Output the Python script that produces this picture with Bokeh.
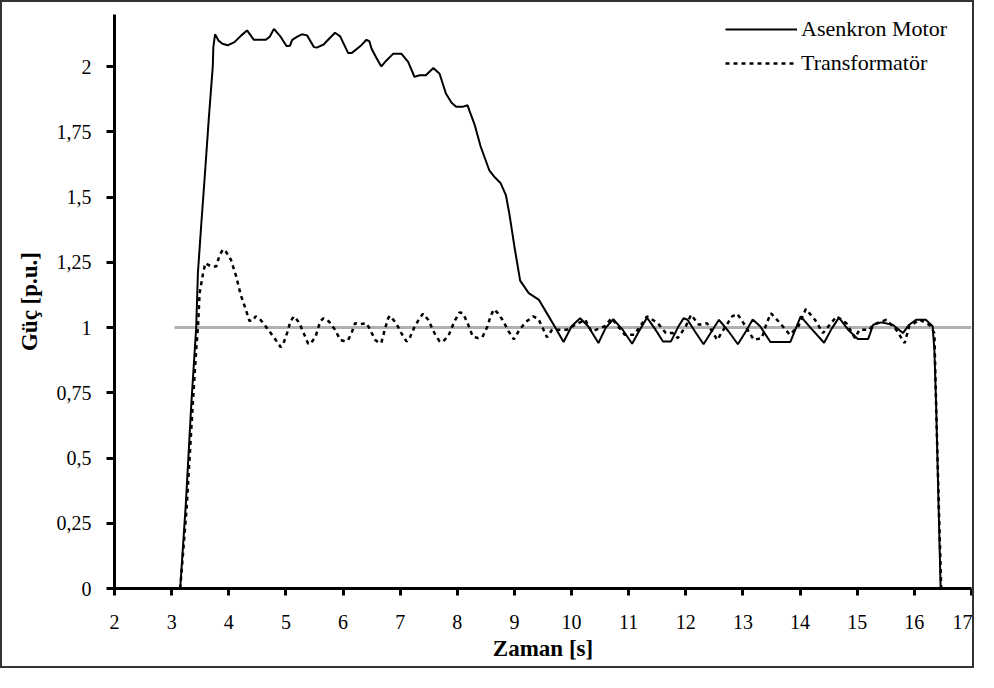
from bokeh.plotting import figure
from bokeh.models import Legend, LegendItem, FixedTicker, Range1d
from bokeh.embed import file_html
from bokeh.resources import INLINE

# ---------------- data ----------------
motor_time = [3.15, 3.25, 3.345, 3.43, 3.46, 3.52, 3.58, 3.65, 3.72, 3.73, 3.76, 3.82, 3.89, 3.98,
              4.10, 4.22, 4.32, 4.44, 4.55, 4.65, 4.72, 4.79, 4.91, 5.01, 5.07, 5.11, 5.20, 5.28,
              5.37, 5.49, 5.54, 5.66, 5.76, 5.86, 5.95, 6.09, 6.15, 6.30, 6.41, 6.46, 6.50, 6.58,
              6.67, 6.76, 6.88, 7.02, 7.14, 7.25, 7.34, 7.45, 7.58, 7.69, 7.80, 7.90, 7.98, 8.09,
              8.18, 8.22, 8.30, 8.41, 8.56, 8.66, 8.76, 8.85, 8.91, 9.00, 9.10, 9.25, 9.43, 9.60,
              9.72, 9.86, 10.00, 10.15, 10.29, 10.47, 10.60, 10.73, 10.90, 11.06, 11.19, 11.32,
              11.46, 11.60, 11.74, 11.86, 11.96, 12.03, 12.16, 12.31, 12.45, 12.58, 12.75, 12.91,
              13.05, 13.17, 13.30, 13.48, 13.83, 14.01, 14.20, 14.42, 14.55, 14.68, 14.84, 15.01,
              15.19, 15.28, 15.42, 15.62, 15.80, 15.91, 16.03, 16.20, 16.32, 16.35, 16.38, 16.42,
              16.46]
motor_power = [0.0, 0.33, 0.71, 1.00, 1.21, 1.40, 1.58, 1.80, 2.00, 2.075, 2.124, 2.10, 2.088, 2.082,
               2.094, 2.12, 2.139, 2.103, 2.103, 2.103, 2.116, 2.145, 2.114, 2.079, 2.08, 2.103, 2.115, 2.124,
               2.120, 2.075, 2.073, 2.085, 2.108, 2.130, 2.116, 2.052, 2.052, 2.078, 2.103, 2.098, 2.069, 2.035,
               2.001, 2.024, 2.050, 2.050, 2.018, 1.961, 1.967, 1.967, 1.995, 1.973, 1.897, 1.862, 1.846, 1.846,
               1.852, 1.827, 1.78, 1.693, 1.603, 1.575, 1.553, 1.508, 1.438, 1.31, 1.18, 1.132, 1.106, 1.043,
               0.998, 0.945, 1.005, 1.036, 1.005, 0.941, 1.00, 1.032, 0.99, 0.938, 0.99, 1.038,
               0.995, 0.947, 0.947, 1.00, 1.036, 1.030, 0.985, 0.936, 0.985, 1.030, 0.985, 0.936,
               0.985, 1.031, 1.005, 0.945, 0.945, 1.043, 0.995, 0.942, 0.995, 1.038, 0.992, 0.956,
               0.956, 1.011, 1.020, 1.011, 0.979, 1.011, 1.030, 1.030, 1.005, 0.915, 0.711, 0.35,
               0.0]

trafo_time = [3.15, 3.26, 3.375, 3.43, 3.46, 3.49, 3.55, 3.59, 3.69, 3.78, 3.84, 3.90, 3.95, 4.04,
              4.13, 4.21, 4.30, 4.36, 4.42, 4.47, 4.53, 4.59, 4.70, 4.82, 4.91, 4.96, 5.02, 5.08,
              5.14, 5.23, 5.31, 5.39, 5.43, 5.52, 5.60, 5.66, 5.75, 5.86, 5.95, 6.04, 6.09, 6.15,
              6.21, 6.30, 6.41, 6.47, 6.56, 6.62, 6.67, 6.73, 6.79, 6.82, 6.93, 7.02, 7.11, 7.16,
              7.25, 7.34, 7.40, 7.49, 7.60, 7.69, 7.75, 7.84, 7.95, 8.04, 8.10, 8.18, 8.27, 8.36,
              8.44, 8.53, 8.58, 8.64, 8.70, 8.79, 8.90, 8.99, 9.07, 9.19, 9.33, 9.42, 9.57, 9.66,
              9.92, 10.06, 10.24, 10.35, 10.58, 10.70, 10.93, 11.10, 11.32, 11.51, 11.65, 11.77,
              11.86, 12.00, 12.09, 12.23, 12.37, 12.55, 12.66, 12.81, 12.90, 13.01, 13.19, 13.33,
              13.42, 13.49, 13.65, 13.82, 13.97, 14.10, 14.26, 14.40, 14.64, 14.81, 14.96, 15.04,
              15.22, 15.27, 15.51, 15.68, 15.83, 15.91, 16.09, 16.26, 16.35, 16.38, 16.43, 16.47,
              16.52]
trafo_power = [0.0, 0.30, 0.724, 0.915, 1.0, 1.132, 1.208, 1.247, 1.234, 1.234, 1.278, 1.300, 1.291, 1.259,
               1.196, 1.125, 1.068, 1.026, 1.026, 1.043, 1.036, 1.021, 0.989, 0.953, 0.925, 0.941, 0.979, 1.024,
               1.043, 1.020, 0.979, 0.938, 0.938, 0.966, 1.024, 1.036, 1.024, 0.992, 0.953, 0.947, 0.953, 0.979,
               1.017, 1.013, 1.017, 0.994, 0.953, 0.943, 0.941, 0.992, 1.036, 1.045, 1.017, 0.979, 0.947, 0.956,
               1.002, 1.036, 1.053, 1.030, 0.979, 0.947, 0.947, 0.966, 1.024, 1.058, 1.055, 1.017, 0.966, 0.960,
               0.964, 1.005, 1.043, 1.070, 1.058, 1.030, 0.985, 0.955, 0.985, 1.02, 1.043, 1.033, 0.963, 0.992,
               0.992, 1.011, 1.03, 0.985, 1.005, 1.036, 0.973, 0.973, 1.043, 1.017, 0.979, 0.979,
               0.960, 1.005, 1.049, 1.011, 1.017, 0.953, 0.992, 1.043, 1.053, 1.017, 0.953, 0.960,
               1.02, 1.055, 1.017, 0.973, 1.005, 1.071, 1.03, 0.979, 1.043, 1.017, 0.960, 0.992,
               0.992, 1.011, 1.03, 0.992, 0.941, 1.005, 1.03, 1.011, 0.979, 0.711, 0.3, 0.0,
               0.0]

ref_time = [3.05, 17.0]
ref_power = [1.0, 1.0]

x_ticks = list(range(2, 18))
y_ticks = [0, 0.25, 0.5, 0.75, 1, 1.25, 1.5, 1.75, 2]
y_tick_labels = ["0", "0,25", "0,5", "0,75", "1", "1,25", "1,5", "1,75", "2"]

x_title = "Zaman [s]"
y_title = "Güç [p.u.]"
series_names = ["Asenkron Motor", "Transformatör"]

FONT = "Liberation Serif"

# ---------------- figure ----------------
p = figure(width=974, height=668, x_range=Range1d(2, 17), y_range=Range1d(0, 2.2),
           output_backend="svg", toolbar_location=None,
           min_border_left=112, min_border_right=5, min_border_top=12, min_border_bottom=82)
p.styles = {"border": "2px solid #333333"}
p.outline_line_color = None
p.background_fill_color = "white"
p.border_fill_color = "white"
p.xgrid.visible = False
p.ygrid.visible = False

for ax in (p.xaxis[0], p.yaxis[0]):
    ax.axis_line_width = 3
    ax.axis_line_color = "black"
    ax.major_tick_line_width = 3
    ax.major_tick_line_color = "black"
    ax.major_tick_in = 0
    ax.minor_tick_line_color = None
    ax.major_label_text_font = FONT
    ax.major_label_text_font_size = "20px"
    ax.major_label_text_color = "black"
    ax.axis_label_text_font = FONT
    ax.axis_label_text_font_size = "23px"
    ax.axis_label_text_font_style = "bold"
    ax.axis_label_text_color = "black"

p.xaxis.ticker = FixedTicker(ticks=x_ticks)
p.xaxis.major_tick_out = 7
p.xaxis.major_label_standoff = 19
p.xaxis.axis_label = x_title
p.xaxis.axis_label_standoff = 4

p.yaxis.ticker = FixedTicker(ticks=y_ticks)
p.yaxis.major_label_overrides = {t: l for t, l in zip(y_ticks, y_tick_labels)}
p.yaxis.major_tick_out = 8
p.yaxis.major_label_standoff = 15
p.yaxis.axis_label = y_title
p.yaxis.axis_label_standoff = 12

p.line(ref_time, ref_power, line_color="#b0b0b0", line_width=3)
r_motor = p.line(motor_time, motor_power, line_color="black", line_width=2)
r_trafo = p.line(trafo_time, trafo_power, line_color="black", line_width=2.5, line_dash="4 4")

legend = Legend(items=[LegendItem(label=series_names[0], renderers=[r_motor]),
                       LegendItem(label=series_names[1], renderers=[r_trafo])],
                location=(611, 512), border_line_color=None, background_fill_alpha=0,
                padding=0, spacing=8, margin=0, glyph_width=72, glyph_height=26,
                label_height=26, label_standoff=4,
                label_text_font=FONT, label_text_font_size="22px", label_text_color="black")
p.add_layout(legend)

open("out.html", "w").write(file_html(p, INLINE))
